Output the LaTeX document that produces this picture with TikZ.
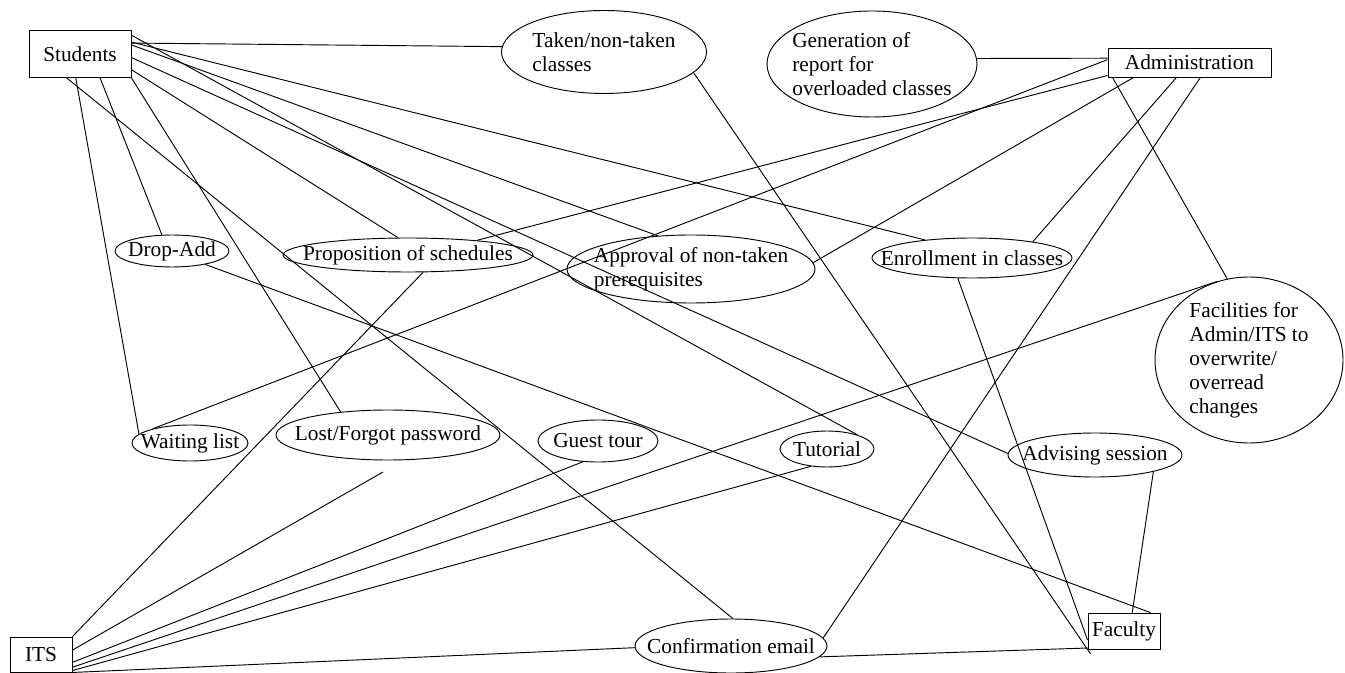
\documentclass[tikz,border=0pt]{standalone}
\usepackage{fontspec}
\setmainfont{Liberation Serif}
\usetikzlibrary{shapes.geometric}
\tikzset{actor/.style 2 args={draw, rectangle, minimum width=#1*0.75pt, minimum height=#2*0.75pt, inner sep=0pt}}
\tikzset{usecase/.style 2 args={draw, ellipse, minimum width=#1*0.75pt, minimum height=#2*0.75pt, inner sep=0pt}}

\begin{document}
\begin{tikzpicture}[
		x=0.75pt, y=-0.75pt, line width=0.7pt,
		font=\fontsize{16}{18}\selectfont,
		txt/.style={align=left, inner sep=0pt}
		]    % one unit is one pixel of the drawing, y runs down
		\useasboundingbox (0,0) rectangle (1345,673);
		% the four actors
		\node[actor={102}{47}] (students) at (80,54) {Students};
		\node[actor={163}{29}] (admin) at (1189.5,62.5) {Administration};
		\node[actor={72}{36}] (faculty) at (1124,631) {Faculty};
		\node[actor={62}{35}] (its) at (41,654.5) {ITS};
		% the use cases, text set as a label in the middle
		\node[usecase={205}{83}, label={[txt]center:{Taken/non-taken\\classes}}] (taken) at (604,52) {};
		\node[usecase={210}{106}, label={[txt]center:{Generation of\\report for\\overloaded classes}}] (gen) at (872,64) {};
		\node[usecase={114}{32}, label={[txt]center:{Drop-Add}}] (dropadd) at (172,251) {};
		\node[usecase={250}{34}, label={[txt]center:{Proposition of schedules}}] (propos) at (408,255) {};
		\node[usecase={248}{68}, label={[txt]center:{Approval of non-taken\\prerequisites}}] (approval) at (691,269) {};
		\node[usecase={200}{40}, label={[txt]center:{Enrollment in classes}}] (enroll) at (972,258) {};
		\node[usecase={188}{166}, label={[txt]center:{Facilities for\\Admin/ITS to\\overwrite/\\overread\\changes}}] (facil) at (1249,360) {};
		\node[usecase={116}{36}, label={[txt]center:{Waiting list}}] (waiting) at (190,443) {};
		\node[usecase={224}{50}, label={[txt]center:{Lost/Forgot password}}] (lost) at (388,435) {};
		\node[usecase={120}{42}, label={[txt]center:{Guest tour}}] (guest) at (598,441) {};
		\node[usecase={94}{36}, label={[txt]center:{Tutorial}}] (tutorial) at (827,449) {};
		\node[usecase={174}{44}, label={[txt]center:{Advising session}}] (advising) at (1095,455) {};
		\node[usecase={192}{54}, label={[txt]center:{Confirmation email}}] (confirm) at (731,646) {};
		\coordinate (lostend) at (383,472); % this line stops short
		% Students
		\draw (students.12) -- (taken.177);
		\draw (students.13) -- (enroll.159);
		\draw (students.10) -- (approval.135);
		\draw (students.20) -- (tutorial.25);
		\draw (students.356) -- (advising.179);
		\draw (students.343) -- (propos.120);
		\draw (students.241) -- (confirm.86);
		\draw (students.260) -- (waiting.170);
		\draw (students.310) -- (dropadd.122);
		\draw (students.south east) -- (lost.154);
		% Administration
		\draw (gen.3) -- (admin.177);
		\draw (waiting.159) -- (admin.178);
		\draw (propos.12) -- (admin.189);
		\draw (approval.3) -- (admin.195);
		\draw (admin.191) -- (facil.105);
		\draw (admin.229) -- (enroll.15);
		\draw (admin.306) -- (confirm.5);
		% ITS
		\draw (its.north east) -- (propos.311);
		\draw (its.8) -- (lostend);
		\draw (its.346) -- (guest.234);
		\draw (its.338) -- (facil.112);
		\draw (its.333) -- (tutorial.227);
		\draw (its.south east) -- (confirm.181);
		% Faculty
		\draw[shorten >=-4pt] (taken.347) -- (faculty.south west);
		\draw (enroll.235) -- (faculty.194);
		\draw (dropadd.338) -- (faculty.35);
		\draw (advising.344) -- (faculty.66);
		\draw (confirm.353) -- (faculty.205);
	\end{tikzpicture}
\end{document}
